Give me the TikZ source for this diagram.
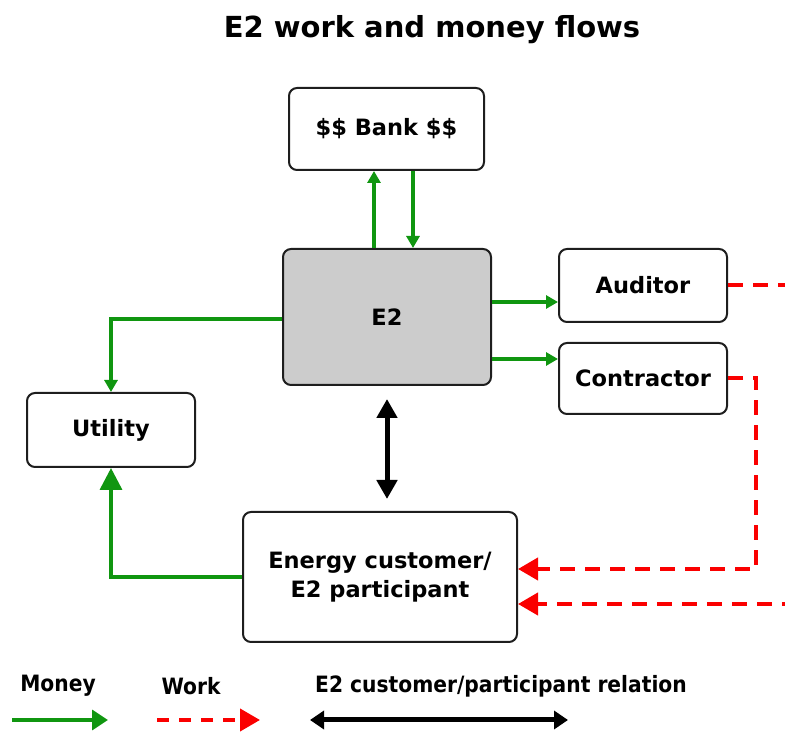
\documentclass[tikz,border=0pt]{standalone}
\usepackage{fontspec}
\setmainfont{DejaVu Sans}
\newfontfamily\legendfont[FakeStretch=0.9]{DejaVu Sans}
\usepackage{tikz}
\usetikzlibrary{arrows.meta,positioning,calc}
\definecolor{moneygreen}{RGB}{16,150,16}
\definecolor{workred}{RGB}{250,0,0}
\definecolor{boxgray}{RGB}{204,204,204}
\definecolor{edgegray}{RGB}{30,30,30}
\begin{document}
\begin{tikzpicture}[
  x=1pt, y=1pt,
  flowbox/.style={draw=edgegray, line width=2pt, rounded corners=8pt, align=center,
                  font=\fontsize{22.5}{29}\selectfont\bfseries},
  money/.style={draw=moneygreen, line width=3.5pt, -{Triangle[length=12pt,width=13pt]}},
  bigmoney/.style={money, -{Triangle[length=22pt,width=22pt]}},
  work/.style={draw=workred, line width=4pt, dash pattern=on 15pt off 10pt,
               -{Triangle[length=20pt,width=22pt]}},
  relation/.style={draw=black, line width=5pt, {Triangle[length=19pt,width=20pt]}-{Triangle[length=19pt,width=20pt]}},
  legtext/.style={font=\legendfont\fontsize{22.5}{26}\selectfont\bfseries}
]
\useasboundingbox (0,0) rectangle (785,734);
\clip (0,0) rectangle (785,734);

\node[font=\fontsize{29}{34}\selectfont\bfseries] (title) at (432,704) {E2 work and money flows};

\node[flowbox, minimum width=195pt, minimum height=82pt] (bank) at (386.5,605) {\$\$ Bank \$\$};
\node[flowbox, fill=boxgray, minimum width=208pt, minimum height=136pt] (e2) at (387,417) {E2};
\node[flowbox, minimum width=168pt, minimum height=73pt] (aud) at (643,448.5) {Auditor};
\node[flowbox, minimum width=168pt, minimum height=71pt] (con) at (643,355.5) {Contractor};
\node[flowbox, minimum width=168pt, minimum height=74pt] (util) at (111,304) {Utility};
\node[flowbox, minimum width=274pt, minimum height=130pt] (cust) at (380,157) {Energy customer/\\E2 participant};

\coordinate (b1) at ([xshift=-13pt]e2.north);
\coordinate (b2) at ([xshift=26.5pt]bank.south);
\draw[money] (b1) -- (b1 |- bank.south);
\draw[money] (b2) -- (b2 |- e2.north);

\coordinate (a1) at ([yshift=15pt]e2.east);
\coordinate (a2) at ([yshift=-42pt]e2.east);
\draw[money] (a1) -- (a1 -| aud.west);
\draw[money] (a2) -- (a2 -| con.west);

\draw[money] ([yshift=-2pt]e2.west) -| (util.north);
\draw[bigmoney] (cust.west) -| (util.south);

\draw[relation, shorten <=13pt, shorten >=12pt] (e2.south) -- (e2.south |- cust.north);

\coordinate (w1) at ([yshift=8pt]cust.east);
\coordinate (w2) at ([yshift=-27pt]cust.east);
\draw[work] (con.east) -- ++(28,0) |- (w1);
\draw[work] (aud.east) -- ++(75,0) |- (w2);

\node[legtext] (lmoney) at (58,48) {Money};
\node[legtext] (lwork) at (191,48) {Work};
\node[legtext] (lrel) at (501,48) {E2 customer/participant relation};
\coordinate (m1) at (12,14);
\coordinate (m2) at (108,14);
\coordinate (k1) at (157,14);
\coordinate (k2) at (260,14);
\coordinate (r1) at (310,14);
\coordinate (r2) at (568,14);
\draw[money, -{Triangle[length=16pt,width=20pt]}] (m1) -- (m2);
\draw[work, dash pattern=on 12pt off 10pt] (k1) -- (k2);
\draw[relation, {Triangle[length=14pt,width=18pt]}-{Triangle[length=14pt,width=18pt]}] (r1) -- (r2);
\end{tikzpicture}
\end{document}
